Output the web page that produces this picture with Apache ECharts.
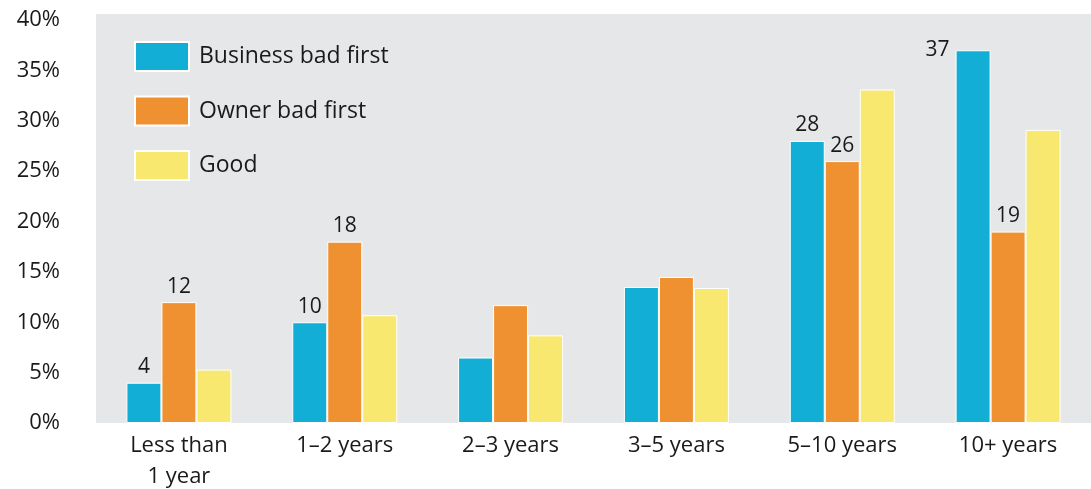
<!DOCTYPE html>
<html>
<head>
<meta charset="utf-8">
<script src="https://cdn.jsdelivr.net/npm/echarts@6/dist/echarts.min.js"></script>
<style>
  html, body { margin: 0; padding: 0; background: #ffffff; }
  #chart { width: 1091px; height: 489px; }
</style>
</head>
<body>
<div id="chart"></div>
<script>
// Relationship length categories (x axis)
var categories = ['Less than\n1 year', '1\u20132 years', '2\u20133 years', '3\u20135 years', '5\u201310 years', '10+ years'];

// Share of each outcome per category, in percent
var businessBadFirst = [4, 10, 6.5, 13.5, 28, 37];
var ownerBadFirst = [12, 18, 11.7, 14.5, 26, 19];
var good = [5.3, 10.7, 8.7, 13.4, 33.1, 29.1];

// Which bars carry a value label
var businessLabelled = [true, true, false, false, true, true];
var ownerLabelled = [true, true, false, false, true, true];

// Y axis ticks
var yTicks = [0, 5, 10, 15, 20, 25, 30, 35, 40];

var FONT = '"Open Sans", "Noto Sans", sans-serif';
var TEXT = '#1a1a1a';

function buildData(values, labelled, sideLabelIndex) {
  return values.map(function (v, i) {
    var item = { value: v, label: { show: labelled[i] } };
    if (i === sideLabelIndex) {
      // tallest bar: value sits beside its top-left corner
      item.label = {
        show: true,
        position: [-6, 0],
        align: 'right',
        verticalAlign: 'middle'
      };
    }
    return item;
  });
}

var labelStyle = {
  position: 'top',
  distance: 5,
  color: TEXT,
  fontFamily: FONT,
  fontSize: 21,
  formatter: function (p) { return String(Math.round(p.value)); }
};

var chart = echarts.init(document.getElementById('chart'), null, { renderer: 'canvas' });

chart.setOption({
  animation: false,
  backgroundColor: '#ffffff',
  textStyle: { fontFamily: FONT },
  grid: {
    left: 96,
    right: 0,
    top: 14,
    bottom: 66,
    outerBoundsMode: 'none',
    containLabel: false,
    show: true,
    backgroundColor: '#e6e7e9',
    borderWidth: 0
  },
  legend: {
    orient: 'vertical',
    left: 134,
    top: 41,
    padding: 0,
    itemWidth: 54,
    itemHeight: 29,
    itemGap: 23.5,
    icon: 'rect',
    selectedMode: false,
    textStyle: {
      color: TEXT,
      fontFamily: FONT,
      fontSize: 23,
      padding: [0, 0, 0, 5]
    },
    data: ['Business bad first', 'Owner bad first', 'Good']
  },
  xAxis: {
    type: 'category',
    data: categories,
    axisLine: { show: false },
    axisTick: { show: false },
    axisLabel: {
      color: TEXT,
      fontFamily: FONT,
      fontSize: 22,
      lineHeight: 31,
      margin: 7,
      interval: 0
    }
  },
  yAxis: {
    type: 'value',
    min: yTicks[0],
    max: 40.6,
    interval: 5,
    splitLine: { show: false },
    axisLine: { show: false },
    axisTick: { show: false },
    axisLabel: {
      color: TEXT,
      fontFamily: FONT,
      fontSize: 22,
      margin: 36,
      showMaxLabel: false,
      formatter: function (v) {
        return yTicks.indexOf(v) >= 0 ? v + '%' : '';
      }
    }
  },
  series: [
    {
      name: 'Business bad first',
      type: 'bar',
      barWidth: 35,
      barGap: '0%',
      itemStyle: { color: '#12aed6', borderColor: '#ffffff', borderWidth: 1 },
      label: labelStyle,
      data: buildData(businessBadFirst, businessLabelled, 5)
    },
    {
      name: 'Owner bad first',
      type: 'bar',
      barWidth: 35,
      barGap: '0%',
      itemStyle: { color: '#f09131', borderColor: '#ffffff', borderWidth: 1 },
      label: labelStyle,
      data: buildData(ownerBadFirst, ownerLabelled, -1)
    },
    {
      name: 'Good',
      type: 'bar',
      barWidth: 35,
      barGap: '0%',
      itemStyle: { color: '#f8e86f', borderColor: '#ffffff', borderWidth: 1 },
      label: { show: false },
      data: good
    }
  ]
});
</script>
</body>
</html>
